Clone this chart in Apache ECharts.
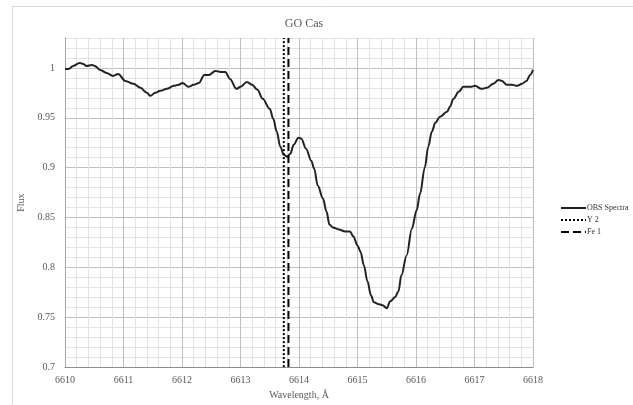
<!DOCTYPE html>
<html>
<head>
<meta charset="utf-8">
<script src="https://cdn.jsdelivr.net/npm/echarts@6/dist/echarts.min.js"></script>
<style>
html,body{margin:0;padding:0;background:#fff;}
#chart{width:633px;height:405px;}
</style>
</head>
<body>
<div id="chart"></div>
<script>
// Observed spectrum of GO Cas
const wavelength = [
6610.00,6610.06,6610.14,6610.25,6610.31,6610.37,6610.46,6610.51,6610.60,6610.71,
6610.82,6610.91,6611.03,6611.17,6611.29,6611.40,6611.46,6611.54,6611.63,6611.74,
6611.86,6611.94,6612.01,6612.11,6612.20,6612.29,6612.38,6612.46,6612.57,6612.66,
6612.74,6612.82,6612.93,6613.00,6613.11,6613.20,6613.29,6613.38,6613.50,6613.56,
6613.62,6613.68,6613.74,6613.80,6613.85,6613.91,6613.99,6614.04,6614.12,6614.21,
6614.26,6614.32,6614.41,6614.47,6614.52,6614.58,6614.68,6614.79,6614.87,6614.93,
6615.00,6615.05,6615.11,6615.17,6615.23,6615.28,6615.37,6615.43,6615.50,6615.56,
6615.64,6615.70,6615.75,6615.84,6615.93,6616.01,6616.07,6616.15,6616.21,6616.27,
6616.33,6616.41,6616.53,6616.58,6616.64,6616.73,6616.81,6616.93,6617.01,6617.12,
6617.21,6617.32,6617.41,6617.47,6617.55,6617.64,6617.73,6617.81,6617.89,6617.95,
6618.00];
const flux = [
0.999,0.999,1.002,1.005,1.004,1.002,1.003,1.002,0.998,0.995,
0.992,0.994,0.987,0.984,0.980,0.975,0.972,0.975,0.977,0.979,
0.982,0.983,0.985,0.981,0.983,0.985,0.993,0.993,0.997,0.996,
0.996,0.989,0.979,0.981,0.986,0.983,0.978,0.969,0.959,0.949,
0.936,0.921,0.913,0.911,0.914,0.923,0.930,0.929,0.919,0.907,
0.899,0.882,0.869,0.856,0.843,0.840,0.838,0.836,0.836,0.831,
0.822,0.816,0.802,0.786,0.772,0.765,0.763,0.762,0.759,0.766,
0.770,0.776,0.792,0.812,0.839,0.857,0.874,0.900,0.921,0.936,
0.945,0.951,0.956,0.961,0.969,0.976,0.981,0.981,0.982,0.979,
0.980,0.984,0.988,0.987,0.983,0.983,0.982,0.984,0.987,0.993,
0.998];
// Line identifications
const lineNames = ['Y 2', 'Fe 1'];
const lineWavelengths = [6613.74, 6613.82];
const lineTypes = ['dotted', 'dashed'];
// Axes
const xMin = 6610, xMax = 6618, xStep = 0.2;
const yMin = 0.7, yMax = 1.03, yStep = 0.01;

const serif = '"Liberation Serif", "DejaVu Serif", serif';
const major = '#bfbfbf', minor = '#e3e3e3';

const series = [{
  name: 'OBS Spectra',
  type: 'line',
  data: wavelength.map((w, i) => [w, flux[i]]),
  symbol: 'none',
  smooth: 0.35,
  smoothMonotone: 'x',
  lineStyle: {color: '#222', width: 2},
  itemStyle: {color: '#222'}
}];
lineNames.forEach((n, i) => {
  series.push({
    name: n,
    type: 'line',
    data: [[lineWavelengths[i], yMin], [lineWavelengths[i], yMax]],
    symbol: 'none',
    lineStyle: {color: '#000', width: 2, type: lineTypes[i]},
    itemStyle: {color: '#000'}
  });
});

const chart = echarts.init(document.getElementById('chart'));
chart.setOption({
  animation: false,
  backgroundColor: '#fff',
  textStyle: {fontFamily: serif},
  graphic: [{
    type: 'rect', z: -10,
    shape: {x: 12.5, y: 6.5, width: 640, height: 420},
    style: {fill: 'none', stroke: '#d9d9d9', lineWidth: 1}
  }],
  title: {
    text: 'GO Cas', left: 299, top: 13, textAlign: 'center',
    textStyle: {fontFamily: serif, fontSize: 12, fontWeight: 'normal', color: '#595959'}
  },
  legend: {
    orient: 'vertical', left: 555, top: 199,
    itemWidth: 25, itemHeight: 6, itemGap: 4,
    itemStyle: {opacity: 0, borderWidth: 0},
    textStyle: {fontFamily: serif, fontSize: 8, color: '#333', padding: [0, 0, 0, -4]},
    data: ['OBS Spectra', 'Y 2', 'Fe 1']
  },
  grid: {left: 65, right: 100, top: 38, bottom: 35},
  xAxis: {
    type: 'value', min: xMin, max: xMax, interval: xStep,
    name: 'Wavelength, Å', nameLocation: 'middle', nameGap: 21,
    nameTextStyle: {fontFamily: serif, fontSize: 10, color: '#595959'},
    axisLine: {show: true, lineStyle: {color: '#8c8c8c'}},
    axisTick: {show: false},
    axisLabel: {
      fontFamily: serif, fontSize: 10, color: '#595959', margin: 8,
      formatter: v => Math.abs(v - Math.round(v)) < 1e-6 ? String(Math.round(v)) : ''
    },
    splitLine: {show: true, lineStyle: {color: [major, minor, minor, minor, minor], width: 1}}
  },
  yAxis: {
    type: 'value', min: yMin, max: yMax, interval: yStep,
    name: 'Flux', nameLocation: 'middle', nameGap: 34,
    nameTextStyle: {fontFamily: serif, fontSize: 10, color: '#595959'},
    axisLine: {show: true, lineStyle: {color: '#a6a6a6'}},
    axisTick: {show: false},
    axisLabel: {
      fontFamily: serif, fontSize: 10, color: '#595959', margin: 10,
      formatter: v => {
        const k = Math.round(v * 100);
        if (k % 5 !== 0 || k > 100) return '';
        return String(+(k / 100).toFixed(2));
      }
    },
    splitLine: {show: true, lineStyle: {color: [major, minor, minor, minor, minor], width: 1}}
  },
  series: series
});
</script>
</body>
</html>
